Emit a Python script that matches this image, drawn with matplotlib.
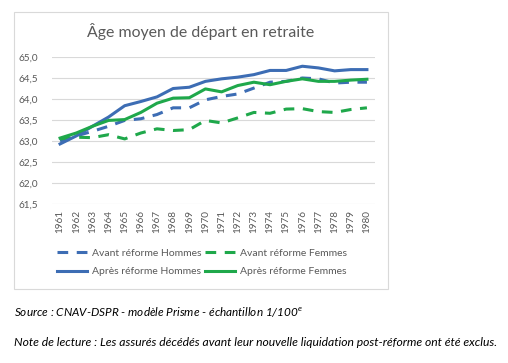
import numpy as np
import matplotlib
matplotlib.use("Agg")
import matplotlib.pyplot as plt
from matplotlib.patches import Rectangle

plt.rcParams['font.family'] = ['Lato', 'DejaVu Sans']

years = [str(y) for y in range(1961, 1981)]

avant_hommes = [63.00, 63.12, 63.23, 63.35, 63.49, 63.53, 63.63, 63.79, 63.79, 63.98,
                64.06, 64.12, 64.26, 64.40, 64.42, 64.50, 64.48, 64.38, 64.40, 64.40]
avant_femmes = [63.05, 63.09, 63.08, 63.15, 63.05, 63.19, 63.29, 63.25, 63.27, 63.49,
                63.43, 63.55, 63.68, 63.66, 63.76, 63.77, 63.70, 63.68, 63.75, 63.79]
apres_hommes = [62.93, 63.12, 63.35, 63.57, 63.84, 63.94, 64.05, 64.25, 64.28, 64.42,
                64.48, 64.52, 64.58, 64.68, 64.68, 64.78, 64.74, 64.67, 64.70, 64.70]
apres_femmes = [63.07, 63.19, 63.35, 63.49, 63.51, 63.68, 63.90, 64.02, 64.03, 64.24,
                64.17, 64.32, 64.40, 64.34, 64.42, 64.48, 64.42, 64.42, 64.45, 64.47]

yticks = [61.5, 62.0, 62.5, 63.0, 63.5, 64.0, 64.5, 65.0]

blue = '#3d6db4'
green = '#1fa84b'
grey_txt = '#595959'

W, H = 508, 363
fig = plt.figure(figsize=(W / 100, H / 100), dpi=100)

# chart frame
fig.patches.append(Rectangle((14 / W, 1 - 289 / H), (388 - 14) / W, (289 - 12) / H,
                             transform=fig.transFigure, fill=False,
                             edgecolor='#d9d9d9', lw=0.8))

ax = fig.add_axes([52 / W, 1 - 204 / H, (375 - 52) / W, (204 - 57) / H])
x = np.arange(len(years))
dash = (0, (3.5, 2.8))
l1, = ax.plot(x, avant_hommes, color=blue, lw=2.2, ls=dash, label='Avant réforme Hommes')
l2, = ax.plot(x, avant_femmes, color=green, lw=2.2, ls=dash, label='Avant réforme Femmes')
l3, = ax.plot(x, apres_hommes, color=blue, lw=2.2, label='Après réforme Hommes')
l4, = ax.plot(x, apres_femmes, color=green, lw=2.2, label='Après réforme Femmes')

ax.set_xlim(-0.5, len(years) - 0.5)
ax.set_ylim(61.5, 65.0)
ax.set_yticks(yticks)
ax.set_yticklabels([f'{v:.1f}'.replace('.', ',') for v in yticks])
ax.set_xticks(x)
ax.set_xticklabels(years, rotation=90)
ax.grid(axis='y', color='#d9d9d9', lw=0.8)
ax.set_axisbelow(True)
for s in ax.spines.values():
    s.set_visible(False)
ax.tick_params(length=0, labelsize=7.2, colors=grey_txt, pad=4)
ax.tick_params(axis='y', pad=10)

fig.text(201 / W, 1 - 31 / H, 'Âge moyen de départ en retraite', ha='center', va='center',
         fontsize=11.4, color=grey_txt)

fig.legend(handles=[l1, l3, l2, l4], ncol=2, loc='center left',
           bbox_to_anchor=(57 / W, 1 - 262.5 / H), frameon=False, fontsize=7.5,
           labelcolor=grey_txt, handlelength=2.9, handletextpad=0.5,
           columnspacing=0.25, labelspacing=0.85, borderpad=0, borderaxespad=0)

fig.text(14 / W, 1 - 313 / H, 'Source : CNAV-DSPR - modèle Prisme - échantillon 1/100$^{\\mathregular{e}}$',
         ha='left', va='center', fontsize=8.5, style='italic')
fig.text(14 / W, 1 - 343 / H,
         'Note de lecture : Les assurés décédés avant leur nouvelle liquidation post-réforme ont été exclus.',
         ha='left', va='center', fontsize=8.7, style='italic')

fig.savefig('out.png', dpi=100)
